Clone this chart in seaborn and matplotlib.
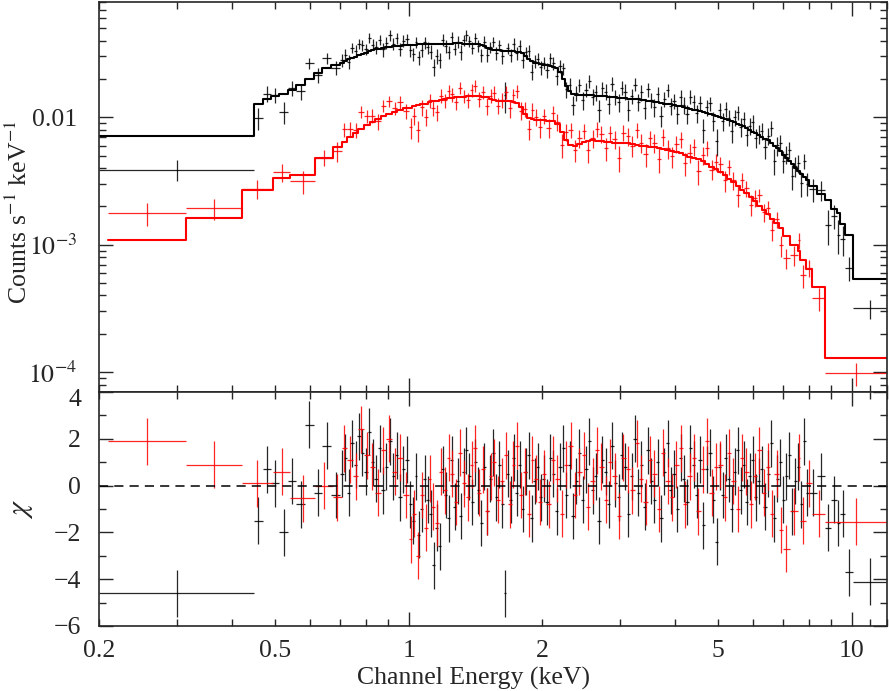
import numpy as np
import matplotlib
matplotlib.use("Agg")
import matplotlib.pyplot as plt
import matplotlib.ticker as mticker
import matplotlib.transforms as mtransforms
import seaborn as sns

# ---------------------------------------------------------------------------
# Data (bin edges in keV, model in counts/s/keV,
# residuals in sigma, relative error of each bin)
# ---------------------------------------------------------------------------
black_edges = [0.2, 0.448,
               0.468, 0.489, 0.511, 0.534, 0.558, 0.583, 0.610, 0.638, 0.668, 0.700,
               0.713, 0.726, 0.739, 0.752, 0.766, 0.779, 0.793, 0.808, 0.822, 0.837,
               0.852, 0.867, 0.883, 0.899, 0.915, 0.931, 0.948, 0.965, 0.982, 1.000,
               1.016, 1.031, 1.047, 1.063, 1.080, 1.097, 1.114, 1.131, 1.149, 1.167,
               1.185, 1.203, 1.222, 1.241, 1.260, 1.280, 1.300, 1.320, 1.340, 1.361,
               1.382, 1.404, 1.426, 1.448, 1.470, 1.493, 1.516, 1.540, 1.564, 1.588,
               1.613, 1.638, 1.663, 1.689, 1.715, 1.742, 1.769, 1.796, 1.824, 1.853,
               1.881, 1.911, 1.940, 1.970, 2.000,
               2.034, 2.069, 2.104, 2.140, 2.177, 2.214, 2.252, 2.290, 2.330, 2.369,
               2.410, 2.451, 2.493, 2.536, 2.579, 2.623, 2.668, 2.713, 2.760, 2.807,
               2.855, 2.904, 2.953, 3.004, 3.055, 3.107, 3.160, 3.214, 3.269, 3.325,
               3.382, 3.440, 3.499, 3.558, 3.619, 3.681, 3.744, 3.808, 3.873, 3.939,
               4.007, 4.075, 4.145, 4.216, 4.288, 4.361, 4.436, 4.511, 4.588, 4.667,
               4.747, 4.828, 4.910, 5.000,
               5.079, 5.159, 5.241, 5.324, 5.408, 5.493, 5.580, 5.668, 5.758, 5.849,
               5.941, 6.035, 6.130, 6.227, 6.325, 6.425, 6.527, 6.630, 6.735, 6.841,
               6.949, 7.059, 7.170, 7.284, 7.399, 7.515, 7.634, 7.755, 7.877, 8.000,
               8.35, 8.7, 9.0, 9.25, 9.4, 9.68, 10.06,
               12.0]
black_model = [0.00717,
               0.0127, 0.0139, 0.0147, 0.0153, 0.0164, 0.0178, 0.0198, 0.0222, 0.0242, 0.0257,
               0.0266, 0.0274, 0.0284, 0.0291, 0.0299, 0.0306, 0.0315, 0.0322, 0.0329, 0.0335,
               0.0341, 0.0346, 0.0350, 0.0354, 0.0357, 0.0360, 0.0362, 0.0364, 0.0366, 0.0368,
               0.0370, 0.0371, 0.0372, 0.0373, 0.0374, 0.0375, 0.0376, 0.0376, 0.0377, 0.0377,
               0.0378, 0.0378, 0.0379, 0.0379, 0.0379, 0.0380, 0.0380, 0.0380, 0.0379, 0.0379,
               0.0378, 0.0377, 0.0376, 0.0373, 0.0368, 0.0360, 0.0352, 0.0345, 0.0340, 0.0337,
               0.0335, 0.0333, 0.0332, 0.0331, 0.0330, 0.0329, 0.0328, 0.0326, 0.0320, 0.0305,
               0.0287, 0.0274, 0.0268, 0.0265, 0.0262,
               0.0259, 0.0256, 0.0253, 0.0250, 0.0245, 0.0228, 0.0200, 0.0176, 0.0160, 0.0153,
               0.0150, 0.0149, 0.0150, 0.0150, 0.0150, 0.0149, 0.0148, 0.0147, 0.0146, 0.0146,
               0.0145, 0.0144, 0.0143, 0.0142, 0.0142, 0.0141, 0.0140, 0.0140, 0.0139, 0.0138,
               0.0137, 0.0136, 0.0135, 0.0133, 0.0132, 0.0131, 0.0130, 0.0128, 0.0127, 0.0126,
               0.0125, 0.0123, 0.0122, 0.0120, 0.0119, 0.0117, 0.0115, 0.0114, 0.0112, 0.0110,
               0.0108, 0.0106, 0.0104, 0.0102,
               0.0101, 0.0099, 0.0097, 0.0095, 0.0093, 0.0091, 0.0089, 0.0087, 0.0085, 0.0082,
               0.0080, 0.0077, 0.0075, 0.0072, 0.0070, 0.0068, 0.0066, 0.0063, 0.0060, 0.0057,
               0.0054, 0.0051, 0.0048, 0.0045, 0.0043, 0.0040, 0.0038, 0.0036, 0.0034, 0.0032,
               0.0029, 0.0025, 0.00225, 0.0019, 0.00177, 0.00145, 0.00119,
               0.000538]
black_chi = [-4.6,
             -1.5, 0.7, 0.1, -2.0, 0.2, -0.8, 2.6, -0.3, 1.7, -0.4,
             0.5, 1.2, -0.3, 1.8, 0.9, 2.1, 1.4, 0.6, 2.3, 1.0,
             0.3, 1.6, -0.2, 0.8, 1.9, 0.4, 1.3, -0.5, 0.7, 1.1,
             -0.8, -1.5, 0.4, -2.1, -1.0, 0.3, -0.6, -1.2, -3.4, -1.8,
             -2.6, 0.7, -0.4, -1.4, 1.1, -0.9, 0.2, -1.3, 0.6, 1.5,
             0.4, -0.7, 1.0, -0.2, -1.6, 0.8, -1.1, 0.3, 1.4, -0.5,
             0.9, -0.8, -4.6, 0.5, -0.6, 1.2, -0.3, 0.9, -1.0, 0.6,
             1.3, -1.4, 0.2, 0.8, -0.5,
             0.3, -0.7, 1.2, 0.5, -1.1, 0.8, 1.6, -0.4, 0.9, -1.3,
             0.2, 1.4, -0.6, 0.7, 1.9, -0.2, 0.4, -1.5, 1.1, 0.6,
             -0.8, 1.7, 0.1, -0.5, 1.3, 0.8, -1.2, 0.4, 2.0, -0.3,
             0.9, -0.9, 1.5, 0.2, -0.6, 1.0, -1.4, 0.6, 1.8, -0.2,
             0.5, -1.0, 1.2, 0.3, -0.7, 1.6, 0.9, -0.4, 1.1, -1.7,
             0.7, 1.4, -0.6, -2.4,
             0.8, -0.4, 1.2, 0.3, -1.0, 0.6, 1.5, -0.2, 0.9, -0.7,
             0.4, 1.1, -0.5, 0.2, 0.7, -0.9, 0.5, 1.8, -1.4, 0.3,
             1.0, -0.6, 0.4, 1.3, -1.1, 0.2, 0.8, -0.8, 1.9, -0.3,
             -0.3, 0.4, -1.8, -0.6, -1.6, -1.2, -3.7,
             -4.1]
black_relerr = [0.10,
                0.15, 0.15, 0.14, 0.14, 0.14, 0.13, 0.13, 0.13, 0.12, 0.12,
                0.12, 0.11, 0.12, 0.11, 0.12, 0.11, 0.12, 0.11, 0.12, 0.11,
                0.12, 0.11, 0.12, 0.11, 0.12, 0.11, 0.12, 0.11, 0.12, 0.11,
                0.11, 0.10, 0.11, 0.10, 0.10, 0.11, 0.10, 0.11, 0.10, 0.11,
                0.10, 0.11, 0.11, 0.10, 0.11, 0.10, 0.11, 0.11, 0.10, 0.11,
                0.11, 0.10, 0.11, 0.11, 0.10, 0.11, 0.11, 0.10, 0.11, 0.11,
                0.11, 0.12, 0.12, 0.11, 0.11, 0.12, 0.11, 0.12, 0.12, 0.11,
                0.12, 0.12, 0.12, 0.11, 0.12,
                0.12, 0.12, 0.12, 0.12, 0.13, 0.13, 0.13, 0.14, 0.14, 0.14,
                0.14, 0.14, 0.15, 0.14, 0.15, 0.14, 0.15, 0.15, 0.14, 0.15,
                0.15, 0.16, 0.14, 0.15, 0.15, 0.16, 0.15, 0.14, 0.15, 0.15,
                0.16, 0.15, 0.15, 0.14, 0.15, 0.16, 0.15, 0.15, 0.16, 0.15,
                0.15, 0.14, 0.15, 0.16, 0.15, 0.15, 0.16, 0.15, 0.15, 0.16,
                0.15, 0.15, 0.16, 0.15,
                0.15, 0.15, 0.16, 0.15, 0.16, 0.16, 0.15, 0.16, 0.16, 0.16,
                0.16, 0.17, 0.16, 0.17, 0.17, 0.16, 0.17, 0.17, 0.17, 0.18,
                0.17, 0.18, 0.17, 0.18, 0.18, 0.18, 0.18, 0.19, 0.18, 0.19,
                0.19, 0.19, 0.20, 0.19, 0.20, 0.20, 0.12,
                0.10]

red_edges = [0.21, 0.314, 0.42, 0.494, 0.54, 0.615, 0.675, 0.706,
             0.727, 0.748, 0.770, 0.793, 0.816, 0.840, 0.865, 0.890, 0.916, 0.943,
             0.971, 1.000,
             1.020, 1.040, 1.061, 1.082, 1.104, 1.126, 1.149, 1.172, 1.195, 1.219,
             1.243, 1.268, 1.294, 1.319, 1.346, 1.373, 1.400, 1.428, 1.457, 1.486,
             1.516, 1.546, 1.577, 1.608, 1.641, 1.673, 1.707, 1.741, 1.776, 1.811,
             1.848, 1.885, 1.922, 1.961, 2.000,
             2.046, 2.094, 2.142, 2.192, 2.243, 2.295, 2.348, 2.402, 2.458, 2.515,
             2.573, 2.633, 2.694, 2.756, 2.820, 2.885, 2.952, 3.020, 3.090, 3.162,
             3.235, 3.310, 3.387, 3.465, 3.546, 3.628, 3.712, 3.798, 3.886, 3.976,
             4.068, 4.162, 4.259, 4.357, 4.458, 4.561, 4.667, 4.775, 4.886, 5.000,
             5.114, 5.230, 5.349, 5.471, 5.595, 5.722, 5.852, 5.985, 6.122, 6.261,
             6.403, 6.549, 6.697, 6.850,
             7.0, 7.25, 7.55, 7.63, 7.9, 8.15, 8.7, 12.0]
red_model = [0.00109, 0.00161, 0.00269, 0.00336, 0.00350, 0.00482, 0.00589,
             0.0064, 0.0070, 0.0075, 0.0081, 0.0087, 0.0092, 0.0097, 0.0102, 0.0106, 0.0110,
             0.0114, 0.0118,
             0.0119, 0.0122, 0.0124, 0.0126, 0.0128, 0.0131, 0.0133, 0.0135, 0.0137, 0.0139,
             0.0141, 0.0142, 0.0143, 0.0144, 0.0145, 0.0146, 0.0146, 0.0146, 0.0146, 0.0145,
             0.0143, 0.0140, 0.0137, 0.0134, 0.0133, 0.0133, 0.0133, 0.0132, 0.0129, 0.0120,
             0.0106, 0.0099, 0.0097, 0.0096, 0.0095,
             0.0095, 0.0094, 0.0093, 0.0088, 0.0076, 0.0066, 0.0061, 0.0060, 0.0062, 0.0064,
             0.0065, 0.0066, 0.0065, 0.0065, 0.0064, 0.0064, 0.0063, 0.0063, 0.0063, 0.0063,
             0.0062, 0.0061, 0.0060, 0.0059, 0.0058, 0.0058, 0.0057, 0.0056, 0.0055, 0.0054,
             0.0053, 0.0052, 0.0051, 0.0049, 0.0048, 0.0047, 0.0045, 0.0043, 0.0041, 0.0039,
             0.0037, 0.0035, 0.0033, 0.0031, 0.0029, 0.0027, 0.00254, 0.00237, 0.0022, 0.0020,
             0.00188, 0.00175, 0.0016, 0.00147,
             0.00135, 0.00117, 0.00100, 0.00089, 0.00076, 0.00065, 0.00047, 0.000129]
red_chi = [1.9, 0.9, 0.1, 0.6, -0.55, 0.0, -0.5,
           1.6, 1.1, 0.4, 2.4, 1.3, 0.8, -0.3, 1.5, 2.0, 0.6,
           1.2, -0.4,
           -2.3, -1.2, -3.0, -0.4, -1.8, 0.3, -0.9, -1.6, 0.6, -0.2,
           1.2, 0.5, -0.7, 1.4, 0.1, -0.5, 0.9, 1.6, -0.3, 0.7,
           -1.1, 0.4, 1.0, -0.6, 0.2, 1.3, -0.8, 0.9, 1.7, -0.4,
           0.6, -1.2, 1.1, 0.3, -0.7,
           0.5, -0.8, 1.1, 0.3, -1.2, 0.9, 1.7, -0.4, 0.6, 1.3,
           -0.9, 0.2, 1.5, 0.8, -0.6, 1.0, 0.4, -1.3, 1.2, 0.7,
           -0.2, 1.8, 0.3, -0.7, 1.1, 0.5, -1.0, 1.4, 0.2, -0.5,
           0.9, 1.6, -0.8, 0.4, 1.2, -1.1, 0.7, 1.9, -0.3, 0.8,
           0.9, -0.5, 1.4, 0.2, -1.0, 1.2, 0.6, -0.8, 0.4, 1.5,
           -0.3, 0.8, -1.2, 0.5,
           -1.9, -2.7, -1.1, 1.2, -1.5, 0.1, -1.2, -1.55]
red_relerr = [0.33, 0.22, 0.17, 0.17, 0.18, 0.14, 0.16,
              0.16, 0.15, 0.15, 0.15, 0.14, 0.14, 0.14, 0.14, 0.13, 0.13,
              0.13, 0.13,
              0.13, 0.13, 0.12, 0.13, 0.12, 0.13, 0.12, 0.12, 0.13, 0.12,
              0.12, 0.13, 0.12, 0.13, 0.12, 0.13, 0.13, 0.13, 0.13, 0.13,
              0.13, 0.13, 0.14, 0.13, 0.14, 0.14, 0.14, 0.14, 0.14, 0.15,
              0.15, 0.15, 0.16, 0.16, 0.16,
              0.15, 0.15, 0.15, 0.16, 0.17, 0.18, 0.18, 0.18, 0.17, 0.17,
              0.17, 0.17, 0.17, 0.17, 0.18, 0.17, 0.17, 0.18, 0.17, 0.18,
              0.18, 0.17, 0.18, 0.18, 0.17, 0.18, 0.18, 0.18, 0.18, 0.17,
              0.18, 0.18, 0.18, 0.18, 0.18, 0.18, 0.18, 0.18, 0.17, 0.18,
              0.17, 0.17, 0.17, 0.17, 0.16, 0.16, 0.16, 0.16, 0.16, 0.15,
              0.15, 0.15, 0.15, 0.15,
              0.14, 0.12, 0.15, 0.18, 0.16, 0.16, 0.16, 0.155]

# ---------------------------------------------------------------------------
# Style
# ---------------------------------------------------------------------------
sns.set_theme(style="ticks")
plt.rcParams["font.family"] = ["Liberation Serif", "DejaVu Serif"]
plt.rcParams["mathtext.fontset"] = "stix"
plt.rcParams["axes.linewidth"] = 1.2

FS = 18.5

fig = plt.figure(figsize=(8.89, 6.91), dpi=100)
ax1 = fig.add_axes([0.1114, 0.4327, 0.886, 0.5644])
ax2 = fig.add_axes([0.1114, 0.0941, 0.886, 0.3386], sharex=ax1)


def draw_set(edges, model, chi, relerr, color):
    e = np.array(edges)
    lo, hi = e[:-1], e[1:]
    cen = np.sqrt(lo * hi)
    m = np.array(model)
    sig = np.array(relerr) * m
    ch = np.array(chi)
    data = m + ch * sig          # data point = model + chi * sigma
    xerr = [cen - lo, hi - cen]
    ax1.errorbar(cen, data, xerr=xerr, yerr=sig, fmt="none", ecolor=color,
                 elinewidth=0.9, alpha=0.85, capsize=0)
    sns.lineplot(x=e, y=np.append(m, m[-1]), drawstyle="steps-post", color=color,
                 lw=1.5, ax=ax1, estimator=None, sort=False)
    ax2.errorbar(cen, ch, xerr=xerr, yerr=np.ones_like(ch), fmt="none", ecolor=color,
                 elinewidth=0.9, alpha=0.85, capsize=0)


draw_set(black_edges, black_model, black_chi, black_relerr, "black")
draw_set(red_edges, red_model, red_chi, red_relerr, "#ff0000")

ax2.axhline(0, color="black", lw=1.1, ls=(0, (6, 4)))

# ---------------------------------------------------------------------------
# Axes
# ---------------------------------------------------------------------------
ax1.set_xscale("log")
ax1.set_yscale("log")
ax1.set_xlim(0.2, 12.0)
ax1.set_ylim(7.0e-5, 0.0802)
ax2.set_ylim(-6, 4)

x_major = [1, 10]
x_minor = [0.2, 0.3, 0.4, 0.5, 0.6, 0.7, 0.8, 0.9, 2, 3, 4, 5, 6, 7, 8, 9, 11, 12]
x_minor_labels = ["0.2", "", "", "0.5", "", "", "", "", "2", "", "", "5", "", "", "", "", "", ""]

for ax in (ax1, ax2):
    ax.set_xticks(x_major)
    ax.set_xticks(x_minor, minor=True)
    ax.tick_params(which="both", direction="in", top=True, right=True, width=1.0,
                   labelsize=FS)
    ax.tick_params(which="major", length=10)
    ax.tick_params(which="minor", length=5)
    ax.tick_params(axis="x", which="both", pad=10)

ax1.tick_params(axis="y", which="both", pad=16)
ax2.tick_params(axis="y", which="both", pad=13)

ax1.tick_params(axis="x", which="both", labelbottom=False)
ax2.set_xticklabels(["1", "10"])
ax2.set_xticklabels(x_minor_labels, minor=True)

ax1.set_yticks([1e-4, 1e-3, 1e-2])
ax1.set_yticklabels([r"$10^{-4}$", r"$10^{-3}$", "0.01"])
ax1.yaxis.set_minor_locator(mticker.LogLocator(base=10, subs=np.arange(2, 10), numticks=20))
ax1.yaxis.set_minor_formatter(mticker.NullFormatter())

ax2.set_yticks([-6, -4, -2, 0, 2, 4])
ax2.set_yticklabels(["\u22126", "\u22124", "\u22122", "0", "2", "4"])
ax2.set_yticks([-5, -3, -1, 1, 3], minor=True)

# nudge the "4" of the residual panel down a little so it clears 10^-4
shift_down = mtransforms.ScaledTranslation(0, -4 / 72, fig.dpi_scale_trans)
lab4 = ax2.get_yticklabels()[-1]
lab4.set_transform(lab4.get_transform() + shift_down)

ax1.set_ylabel(r"Counts s$^{-1}$ keV$^{-1}$", fontsize=FS)
ax1.yaxis.set_label_coords(-0.085, 0.46)
ax2.set_ylabel(r"$\chi$", fontsize=FS + 3)
ax2.yaxis.set_label_coords(-0.081, 0.5)
ax2.set_xlabel("Channel Energy (keV)", fontsize=FS, labelpad=4)
ax2.xaxis.set_label_coords(0.475, -0.175)
ax1.set_xlabel("")

fig.savefig("out.png", dpi=100)
